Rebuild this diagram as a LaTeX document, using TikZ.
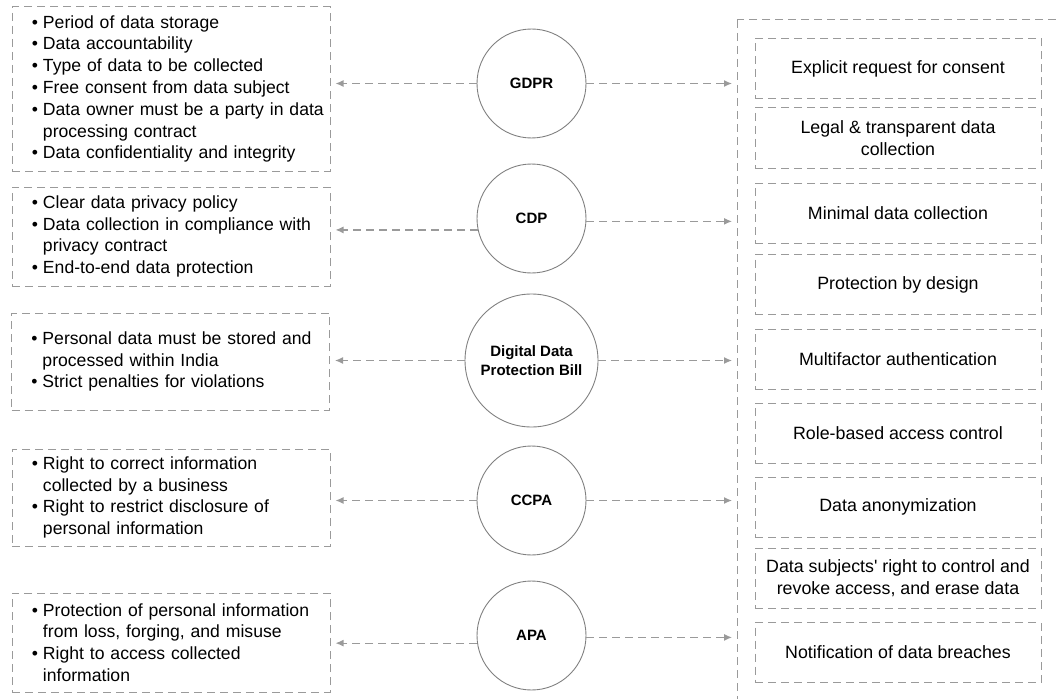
\documentclass[tikz,border=0pt]{standalone}
\usepackage{fontspec}
\setmainfont{Liberation Sans}[Ligatures=TeXOff]
\usepackage{xcolor}
\usetikzlibrary{positioning,arrows.meta}
\definecolor{dashgray}{HTML}{9A9A9A}
\definecolor{ringgray}{HTML}{808080}
\newcommand{\itm}[1]{\noindent\leftskip=20pt\hangindent=11pt\hangafter=1\makebox[11pt][l]{\textbullet}#1\par}
\tikzset{
  lawbox/.style={draw=dashgray, dash pattern=on 8pt off 5pt, line width=1pt, text width=318pt,
    inner xsep=0pt, align=left, font=\fontsize{17.6}{21.8}\selectfont},
  rulebox/.style={draw=dashgray, dash pattern=on 8pt off 5pt, line width=1pt, minimum width=286pt,
    minimum height=60pt, align=center, font=\fontsize{17.8}{21.7}\selectfont},
  law/.style={circle, draw=ringgray, line width=0.9pt, minimum size=109pt, inner sep=0pt,
    align=center, font=\bfseries\fontsize{15}{19}\selectfont},
  link/.style={draw=dashgray, dash pattern=on 8pt off 5pt, line width=1.2pt, shorten >=5pt, ->,
    >={Latex[length=8pt,width=7pt]}}
}

\begin{document}
\begin{tikzpicture}[x=1pt,y=-1pt]
\useasboundingbox (0,0) rectangle (1056,698);

% laws
\node [law] (gdpr) at (531.5,83.5) {GDPR};
\node [law] (cdp) at (531.5,218.5) {CDP};
\node [law, minimum size=133pt] (ddpb) at (531.5,360.5) {Digital Data\\Protection Bill};
\node [law] (ccpa) at (531.5,500.5) {CCPA};
\node [law] (apa) at (531.5,635.5) {APA};

% what each law asks for
\node [lawbox, minimum height=164pt] (lgdpr) at (171,89) {%
  \itm{Period of data storage}
  \itm{Data accountability}
  \itm{Type of data to be collected}
  \itm{Free consent from data subject}
  \itm{Data owner must be a party in data\newline processing contract}
  \itm{Data confidentiality and integrity}};
\node [lawbox, minimum height=99pt] (lcdp) at (171,236.5) {%
  \itm{Clear data privacy policy}
  \itm{Data collection in compliance with\newline privacy contract}
  \itm{End-to-end data protection}};
\node [lawbox, minimum height=97pt] (lddpb) at (170.5,361.5) {%
  \itm{Personal data must be stored and\newline processed within India}
  \itm{Strict penalties for violations}};
\node [lawbox, minimum height=97pt] (lccpa) at (171,497.5) {%
  \itm{Right to correct information\newline collected by a business}
  \itm{Right to restrict disclosure of\newline personal information}};
\node [lawbox, minimum height=99pt] (lapa) at (171,642.5) {%
  \itm{Protection of personal information\newline from loss, forging, and misuse}
  \itm{Right to access collected\newline information}};

% shared requirements
\draw [dashgray, dash pattern=on 8pt off 5pt, line width=1pt] (737,20) rectangle (1090,730);
\coordinate (frame) at (737,20);

\node [rulebox] (consent) at (898,68.5) {Explicit request for consent};
\node [rulebox] (legal) at (898,138) {Legal \& transparent data\\collection};
\node [rulebox] (minimal) at (898,213) {Minimal data collection};
\node [rulebox] (design) at (898,284.5) {Protection by design};
\node [rulebox] (mfa) at (898,359) {Multifactor authentication};
\node [rulebox] (rbac) at (898,433) {Role-based access control};
\node [rulebox] (anon) at (898,507) {Data anonymization};
\node [rulebox] (revoke) at (898,578) {Data subjects\textquotesingle\ right to control and\\revoke access, and erase data};
\node [rulebox] (breach) at (898,652.5) {Notification of data breaches};

% links
\draw [link] (gdpr.180) -- (gdpr.180 -| lgdpr.east);
\draw [link] (gdpr.0) -- (gdpr.0 -| frame);
\draw [link] (cdp.192) -- (cdp.192 -| lcdp.east);
\draw [link] (cdp.357) -- (cdp.357 -| frame);
\draw [link] (ddpb.180) -- (ddpb.180 -| lddpb.east);
\draw [link] (ddpb.0) -- (ddpb.0 -| frame);
\draw [link] (ccpa.180) -- (ccpa.180 -| lccpa.east);
\draw [link] (ccpa.0) -- (ccpa.0 -| frame);
\draw [link] (apa.188) -- (apa.188 -| lapa.east);
\draw [link] (apa.358) -- (apa.358 -| frame);

\end{tikzpicture}
\end{document}
